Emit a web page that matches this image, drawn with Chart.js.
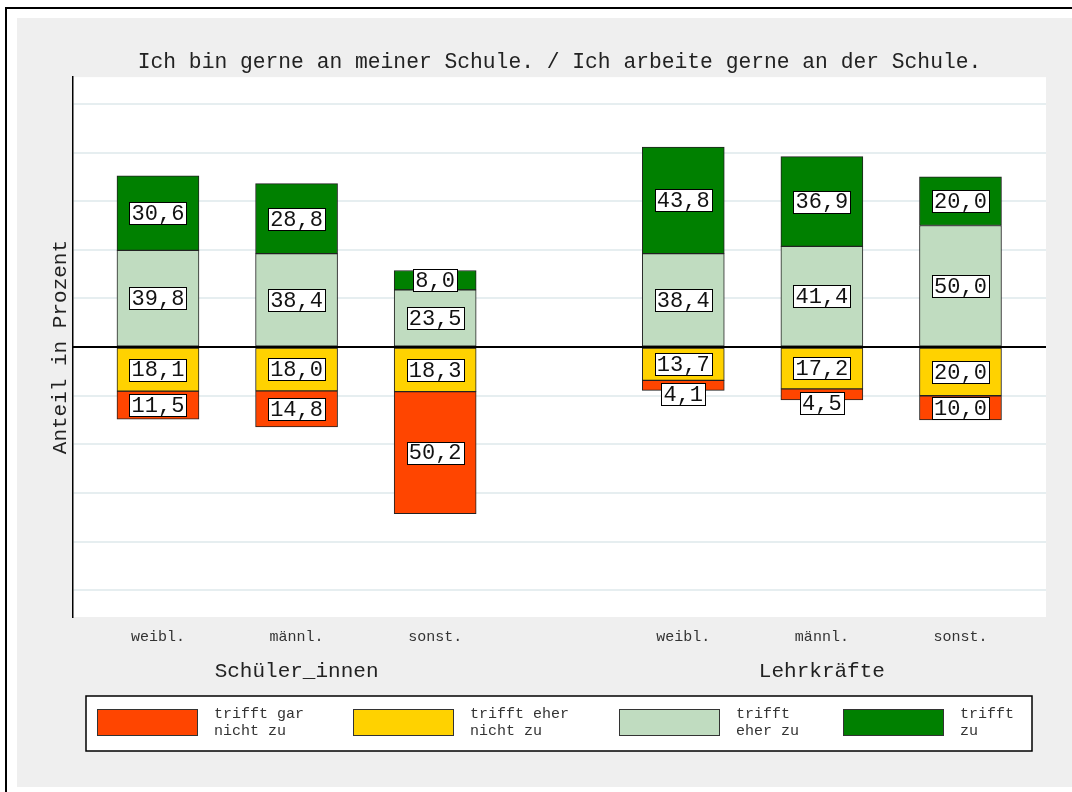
<!DOCTYPE html>
<html lang="de">
<head>
<meta charset="utf-8">
<title>Ich bin gerne an meiner Schule</title>
<script src="https://cdn.jsdelivr.net/npm/chart.js@4.4.1/dist/chart.umd.min.js"></script>
<style>
    html, body { margin: 0; padding: 0; background: #fff; }
    #wrap { width: 1072px; height: 792px; }
</style>
</head>
<body>
<div id="wrap"><canvas id="chart" width="1072" height="792"></canvas></div>
<script>
// categories and where each bar sits on the x axis (gap between the groups)
const categories = ["weibl.", "männl.", "sonst.", "weibl.", "männl.", "sonst."];
const slotPositions = [0, 1, 2, 3.79, 4.79, 5.79];
const groupLabels = ["Schüler_innen", "Lehrkräfte"];
const groupPositions = [1, 4.79];

// percentages per answer
const garNichtZu = [11.5, 14.8, 50.2, 4.1, 4.5, 10.0];
const eherNichtZu = [18.1, 18.0, 18.3, 13.7, 17.2, 20.0];
const eherZu = [39.8, 38.4, 23.5, 38.4, 41.4, 50.0];
const trifftZu = [30.6, 28.8, 8.0, 43.8, 36.9, 20.0];

const yTicks = [-100, -80, -60, -40, -20, 0, 20, 40, 60, 80, 100];

const legendItems = [
    { lines: ["trifft gar", "nicht zu"], color: "#ff4500" },
    { lines: ["trifft eher", "nicht zu"], color: "#ffd200" },
    { lines: ["trifft", "eher zu"], color: "#c0dcc0" },
    { lines: ["trifft", "zu"], color: "#008000" },
];

const MONO = "'Liberation Mono', 'DejaVu Sans Mono', monospace";
const X_MIN = -0.613;
const X_MAX = 6.407;
const toPoints = (arr, sign) =>
    arr.map((v, i) => ({ x: slotPositions[i], y: sign * v }));

// ========================================
// background: frame, grey panel, white plot area
// ========================================
const background = {
    id: "background",
    beforeDraw(chart) {
        const { ctx, chartArea } = chart;
        ctx.save();
        ctx.fillStyle = "#fff";
        ctx.fillRect(0, 0, chart.width, chart.height);
        ctx.strokeStyle = "#000";
        ctx.lineWidth = 2;
        ctx.strokeRect(6, 8, 1200, 900);
        ctx.fillStyle = "#efefef";
        ctx.fillRect(17, 18, chart.width, 769);
        ctx.fillStyle = "#fff";
        ctx.fillRect(chartArea.left, chartArea.top,
            chartArea.right - chartArea.left, chartArea.bottom - chartArea.top);
        ctx.restore();
    },
};

// ========================================
// zero line + value boxes
// ========================================
const valueLabels = {
    id: "valueLabels",
    afterDatasetsDraw(chart) {
        const { ctx, chartArea } = chart;
        const y0 = chart.scales.y.getPixelForValue(0);
        ctx.save();
        ctx.strokeStyle = "#000";
        ctx.lineWidth = 2;
        ctx.beginPath();
        ctx.moveTo(chartArea.left, y0);
        ctx.lineTo(chartArea.right, y0);
        ctx.stroke();

        ctx.font = "22px " + MONO;
        ctx.textAlign = "center";
        ctx.textBaseline = "middle";
        chart.data.datasets.forEach((ds, di) => {
            chart.getDatasetMeta(di).data.forEach((bar, i) => {
                const v = ds.data[i].y;
                const txt = Math.abs(v).toFixed(1).replace(".", ",");
                const w = Math.round(ctx.measureText(txt).width + 4);
                const h = 22;
                const segH = Math.abs(bar.base - bar.y);
                let cy = (bar.y + bar.base) / 2;
                if (v < 0 && segH < h) {
                    cy += (h - segH) / 2 + 3;
                }
                const bx = Math.round(bar.x - w / 2) + 0.5;
                const by = Math.round(cy - h / 2) + 0.5;
                ctx.fillStyle = "#fff";
                ctx.fillRect(bx, by, w, h);
                ctx.strokeStyle = "#000";
                ctx.lineWidth = 1;
                ctx.strokeRect(bx, by, w, h);
                ctx.fillStyle = "#111";
                ctx.fillText(txt, bar.x, cy + 1);
            });
        });
        ctx.restore();
    },
};

// ========================================
// legend box at the bottom
// ========================================
const legendBox = {
    id: "legendBox",
    afterDraw(chart) {
        const { ctx } = chart;
        const itemX = [97, 353, 619, 843];
        ctx.save();
        ctx.fillStyle = "#fff";
        ctx.fillRect(86, 696, 946, 55);
        ctx.strokeStyle = "#000";
        ctx.lineWidth = 1.5;
        ctx.strokeRect(86, 696, 946, 55);
        ctx.font = "15px " + MONO;
        ctx.textAlign = "left";
        ctx.textBaseline = "middle";
        legendItems.forEach((item, i) => {
            const x = itemX[i];
            ctx.fillStyle = item.color;
            ctx.fillRect(x, 709, 100, 26);
            ctx.strokeStyle = "#333";
            ctx.lineWidth = 1;
            ctx.strokeRect(x + 0.5, 709.5, 100, 26);
            ctx.fillStyle = "#333";
            item.lines.forEach((line, li) => {
                ctx.fillText(line, x + 117, 714 + li * 17);
            });
        });
        ctx.restore();
    },
};

const ctx = document.getElementById("chart");
new Chart(ctx.getContext("2d"), {
    type: "bar",
    data: {
        datasets: [
            { label: "trifft eher nicht zu", data: toPoints(eherNichtZu, -1), backgroundColor: "#ffd200" },
            { label: "trifft gar nicht zu", data: toPoints(garNichtZu, -1), backgroundColor: "#ff4500" },
            { label: "trifft eher zu", data: toPoints(eherZu, 1), backgroundColor: "#c0dcc0" },
            { label: "trifft zu", data: toPoints(trifftZu, 1), backgroundColor: "#008000" },
        ],
    },
    options: {
        responsive: false,
        animation: false,
        devicePixelRatio: 1,
        datasets: {
            bar: {
                borderColor: "#222",
                borderWidth: 1,
                borderSkipped: false,
                barThickness: 82,
            },
        },
        layout: {
            padding: { left: 47.8, right: 26, top: 49.6, bottom: 107 },
        },
        plugins: {
            legend: { display: false },
            tooltip: { enabled: false },
            title: {
                display: true,
                text: "Ich bin gerne an meiner Schule. / Ich arbeite gerne an der Schule.",
                fullSize: false,
                color: "#222",
                font: { family: MONO, size: 21.3, weight: "normal" },
                padding: { top: 0, bottom: 2 },
            },
        },
        scales: {
            x: {
                type: "linear",
                stacked: true,
                offset: false,
                min: X_MIN,
                max: X_MAX,
                afterBuildTicks: (axis) => {
                    axis.ticks = slotPositions.map((v) => ({ value: v }));
                },
                grid: { display: false, offset: false },
                border: { display: false },
                ticks: {
                    autoSkip: false,
                    maxRotation: 0,
                    padding: 3,
                    color: "#333",
                    font: { family: MONO, size: 15 },
                    callback: (value, index) => categories[index],
                },
            },
            x2: {
                type: "linear",
                position: "bottom",
                offset: false,
                min: X_MIN,
                max: X_MAX,
                weight: 1,
                afterBuildTicks: (axis) => {
                    axis.ticks = groupPositions.map((v) => ({ value: v }));
                },
                grid: { display: false, offset: false },
                border: { display: false },
                ticks: {
                    autoSkip: false,
                    maxRotation: 0,
                    padding: 1.4,
                    color: "#222",
                    font: { family: MONO, size: 21 },
                    callback: (value, index) => groupLabels[index],
                },
            },
            y: {
                stacked: true,
                min: -111,
                max: 111,
                afterBuildTicks: (axis) => {
                    axis.ticks = yTicks.map((v) => ({ value: v }));
                },
                grid: { color: "#e6eef0", lineWidth: 2, drawTicks: false },
                border: { display: true, color: "#000", width: 1.5 },
                ticks: { display: false },
                title: {
                    display: true,
                    text: "Anteil in Prozent",
                    color: "#222",
                    padding: 0,
                    font: { family: MONO, size: 21 },
                },
            },
        },
    },
    plugins: [background, valueLabels, legendBox],
});
</script>
</body>
</html>
